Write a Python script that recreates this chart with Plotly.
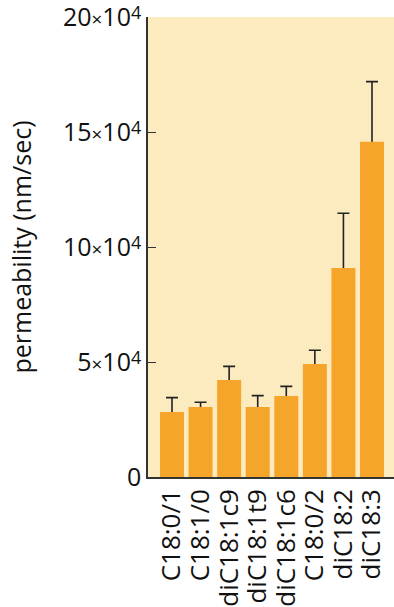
import plotly.graph_objects as go

categories = ["C18:0/1", "C18:1/0", "diC18:1c9", "diC18:1t9", "diC18:1c6", "C18:0/2", "diC18:2", "diC18:3"]
values = [28300, 30400, 42200, 30400, 35200, 49100, 90900, 145800]
errors = [6200, 2100, 5900, 5000, 4200, 6000, 23800, 26100]
tick_vals = [0, 50000, 100000, 150000, 200000]
mant = ["5", "10", "15", "20"]
tick_text = ["0"] + [
    m + "<span style='font-size:19px'>×</span>10"
        "<span style='font-size:18px;baseline-shift:7px'>4</span>"
    for m in mant
]

fig = go.Figure()
# error bars (drawn first, lower end hidden beneath the bars drawn afterwards)
fig.add_trace(go.Bar(
    x=categories, y=values,
    marker=dict(color="rgba(0,0,0,0)", line=dict(width=0)),
    error_y=dict(type="data", array=errors, symmetric=False,
                 arrayminus=[1500] * len(values),
                 color="#222222", thickness=1.6, width=6),
    hoverinfo="skip",
))
fig.add_trace(go.Bar(
    x=categories, y=values,
    marker=dict(color="#F5A52A", line=dict(width=0)),
))

fig.update_layout(
    width=394, height=607,
    margin=dict(l=148, r=0, t=17, b=130, autoexpand=False),
    paper_bgcolor="white",
    plot_bgcolor="#FDEBC0",
    barmode="overlay",
    bargap=0.16,
    showlegend=False,
    font=dict(family="Open Sans", size=25, color="#111111"),
)
fig.update_xaxes(
    range=[-0.84, 7.77], tickangle=-90, showgrid=False,
    tickmode="array", tickvals=categories, ticktext=categories,
    showline=True, linecolor="#333333", linewidth=1.5,
    ticks="", tickfont=dict(size=26), automargin=False,
    ticklabeloverflow="allow",
)
fig.update_yaxes(
    range=[0, 200000], tickvals=tick_vals, ticktext=tick_text,
    showgrid=False, zeroline=False,
    showline=True, linecolor="#333333", linewidth=1.5,
    ticks="inside", ticklen=8, tickcolor="#333333", tickwidth=1,
    tickfont=dict(size=25), automargin=False,
    ticklabeloverflow="allow",
    title=dict(text="permeability (nm/sec)", font=dict(size=25), standoff=24),
)

fig.write_html("out.html", config={"displayModeBar": False},
               post_script="document.body.style.margin='0';document.body.style.padding='0';")
